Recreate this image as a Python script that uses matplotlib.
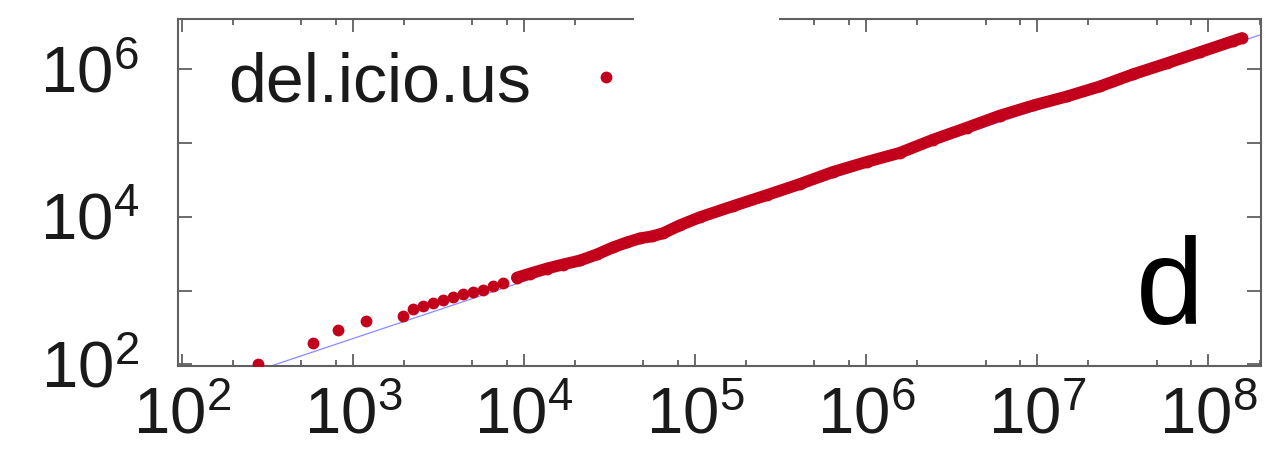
import numpy as np
import matplotlib
matplotlib.use("Agg")
import matplotlib.pyplot as plt
from matplotlib.ticker import FixedLocator, FuncFormatter, NullFormatter, NullLocator
from matplotlib.patches import Rectangle

plt.rcParams["font.family"] = ["Liberation Sans", "DejaVu Sans"]
plt.rcParams["mathtext.fontset"] = "custom"
plt.rcParams["mathtext.rm"] = "Liberation Sans"
plt.rcParams["mathtext.it"] = "Liberation Sans:italic"
plt.rcParams["mathtext.bf"] = "Liberation Sans:bold"

# tag-stream growth: total tags seen vs distinct tags
series_label = "del.icio.us"
panel_label = "d"

# early, sparse observations (drawn as separate dots)
sparse_x = [278, 584, 817, 1191, 1960, 2244, 2567, 2937, 3360, 3845,
            4398, 5032, 5758, 6588, 7536]
sparse_y = [100, 196, 294, 389, 455, 566, 622, 684, 751, 826,
            907, 966, 1029, 1167, 1282]

# dense tail, where the dots merge into a band
tail_x = [9104, 10840, 13630, 16900, 21250, 26730, 33150, 40020, 47700,
          56070, 65010, 81730, 106950, 166800, 263700, 411200, 641200,
          1.013e6, 1.580e6, 2.465e6, 3.897e6, 6.077e6, 9.476e6, 1.498e7,
          2.336e7, 3.643e7, 5.758e7, 8.98e7, 1.40e8, 1.58e8]
tail_y = [1500, 1701, 1990, 2256, 2558, 3090, 3848, 4502, 5105,
          5434, 5975, 7680, 9874, 13950, 19710, 27840, 40590,
          55570, 73760, 110900, 161800, 235700, 322700, 428300,
          586300, 855000, 1.208e6, 1.706e6, 2.410e6, 2.648e6]

# power-law guide y = a * x^b
fit_a = 1.05
fit_b = 0.776
fit_range = [250, 2.2e8]

# tick decades
x_decades = [2, 3, 4, 5, 6, 7, 8]
y_decades = [2, 3, 4, 5, 6]
x_minor_subs = [2, 5, 8]

red = "#c3001c"
blue = "#8a8aff"

fig = plt.figure(figsize=(12.8, 4.72), dpi=100)
ax = fig.add_axes([178 / 1280, 1 - 366 / 472, (1261 - 178) / 1280, (366 - 19) / 472])

fx = np.array(fit_range)
ax.plot(fx, fit_a * fx ** fit_b, color=blue, lw=0.9, zorder=1)

pts = ax.plot(sparse_x, sparse_y, "o", color=red, ms=8.5, mew=0,
              label=series_label, zorder=3)[0]
ax.plot(tail_x, tail_y, "-o", color=red, ms=8.5, mew=0, lw=8.5,
        solid_capstyle="round", zorder=3)

ax.set_xscale("log")
ax.set_yscale("log")
ax.set_xlim(95, 2.04e8)
ax.set_ylim(95, 4.8e6)

x_major = [10.0 ** e for e in x_decades]
x_minor = [s * 10.0 ** e for e in range(1, 9) for s in x_minor_subs]
y_major = [10.0 ** e for e in y_decades]
ax.xaxis.set_major_locator(FixedLocator(x_major))
ax.xaxis.set_minor_locator(FixedLocator(x_minor))
ax.xaxis.set_minor_formatter(NullFormatter())
ax.yaxis.set_major_locator(FixedLocator(y_major))
ax.yaxis.set_minor_locator(NullLocator())
ax.yaxis.set_minor_formatter(NullFormatter())


def fmt_x(v, pos):
    e = int(round(np.log10(v)))
    return r"$\mathregular{10^{%d}}$" % e


def fmt_y(v, pos):
    e = int(round(np.log10(v)))
    if e % 2:
        return ""
    return r"$\mathregular{10^{%d}}$" % e


ax.xaxis.set_major_formatter(FuncFormatter(fmt_x))
ax.yaxis.set_major_formatter(FuncFormatter(fmt_y))

ink = "#1a1a1a"
frame = "#606060"
for s in ax.spines.values():
    s.set_color(frame)
    s.set_linewidth(1.5)
ax.tick_params(which="both", direction="in", top=True, right=True,
               color=frame, width=1.3)
ax.tick_params(axis="x", which="major", length=9, pad=15,
               labelsize=47, labelcolor=ink)
ax.tick_params(axis="x", which="minor", length=4.5)
ax.tick_params(axis="y", which="major", length=10, pad=28,
               labelsize=47, labelcolor=ink)

ax.legend(handles=[pts], loc="center left", frameon=False,
          markerfirst=False, fontsize=49, handlelength=1.0,
          handletextpad=0.6, borderpad=0, borderaxespad=0,
          bbox_to_anchor=((228 - 178) / 1083, (366 - 83) / 347),
          labelcolor=ink)

fig.text(1204 / 1280, 1 - 323 / 472, panel_label, ha="right", va="baseline",
         fontsize=88, color="black")

# white blot over part of the top frame
fig.patches.append(Rectangle((634 / 1280, 1 - 36 / 472), (779 - 634) / 1280,
                             36 / 472, transform=fig.transFigure,
                             facecolor="white", edgecolor="none", zorder=10))

fig.savefig("out.png", dpi=100)
